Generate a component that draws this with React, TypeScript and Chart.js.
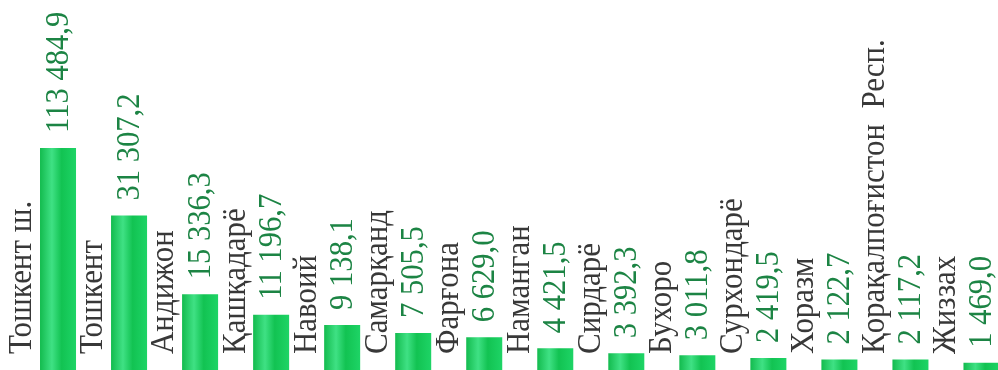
import React, { useEffect, useRef } from "react";
import { Chart, registerables } from "chart.js";

Chart.register(...registerables);

const categories = [
  "Тошкент ш.",
  "Тошкент",
  "Андижон",
  "Қашқадарё",
  "Навоий",
  "Самарқанд",
  "Фарғона",
  "Наманган",
  "Сирдарё",
  "Бухоро",
  "Сурхондарё",
  "Хоразм",
  "Қорақалпоғистон  Респ.",
  "Жиззах",
];

const values = [
  113484.9, 31307.2, 15336.3, 11196.7, 9138.1, 7505.5, 6629.0, 4421.5, 3392.3,
  3011.8, 2419.5, 2122.7, 2117.2, 1469.0,
];

const valueLabels = [
  "113 484,9",
  "31 307,2",
  "15 336,3",
  "11 196,7",
  "9 138,1",
  "7 505,5",
  "6 629,0",
  "4 421,5",
  "3 392,3",
  "3 011,8",
  "2 419,5",
  "2 122,7",
  "2 117,2",
  "1 469,0",
];

const Y_MAX = 45000;
const FONT = '"Liberation Serif", "Times New Roman", serif';

const labelPlugin = {
  id: "rotLabels",
  afterDatasetsDraw(chart: any) {
    const ctx = chart.ctx;
    const meta = chart.getDatasetMeta(0);
    const area = chart.chartArea;
    const slot = (area.right - area.left) / categories.length;
    ctx.save();
    meta.data.forEach((bar: any, i: number) => {
      const top = Math.max(bar.y, area.top);
      // value label
      ctx.save();
      ctx.font = "34px " + FONT;
      ctx.fillStyle = "#1c8444";
      ctx.textAlign = "left";
      ctx.textBaseline = "middle";
      ctx.translate(bar.x + 1, top - 15);
      ctx.rotate(-Math.PI / 2);
      ctx.scale(0.9, 1);
      ctx.fillText(valueLabels[i], 0, 0);
      ctx.restore();
      // category label
      ctx.save();
      ctx.font = "34px " + FONT;
      ctx.fillStyle = "#383838";
      ctx.textAlign = "left";
      ctx.textBaseline = "middle";
      ctx.translate(bar.x - slot / 2, 354);
      ctx.rotate(-Math.PI / 2);
      ctx.scale(0.91, 1);
      ctx.fillText(categories[i], 0, 0);
      ctx.restore();
    });
    ctx.restore();
  },
};

export default function App() {
  const ref = useRef<HTMLCanvasElement | null>(null);

  useEffect(() => {
    document.body.style.margin = "0";
    const canvas = ref.current!;
    const chart = new Chart(canvas, {
      type: "bar",
      data: {
        labels: categories,
        datasets: [
          {
            data: values,
            barPercentage: 0.507,
            categoryPercentage: 1,
            borderWidth: 0,
            backgroundColor: (c: any) => {
              const ch = c.chart;
              const area = ch.chartArea;
              if (!area || c.dataIndex === undefined) return "#1ac456";
              const slot = (area.right - area.left) / categories.length;
              const cx = area.left + (c.dataIndex + 0.5) * slot;
              if (!isFinite(cx)) return "#1ac456";
              const w = 36;
              const g = ch.ctx.createLinearGradient(cx - w / 2, 0, cx + w / 2, 0);
              g.addColorStop(0, "#13bb4e");
              g.addColorStop(0.33, "#3fe184");
              g.addColorStop(0.6, "#12c352");
              g.addColorStop(1, "#1ed466");
              return g;
            },
          },
        ],
      },
      options: {
        animation: false,
        responsive: false,
        maintainAspectRatio: false,
        layout: { padding: { top: 148, bottom: 0, left: 22.5, right: 0 } },
        plugins: { legend: { display: false }, tooltip: { enabled: false } },
        scales: {
          x: { display: false },
          y: { display: false, min: 0, max: Y_MAX },
        },
      },
      plugins: [labelPlugin],
    });
    return () => chart.destroy();
  }, []);

  return (
    <div
      style={{
        position: "fixed",
        left: 0,
        top: 0,
        width: 998,
        height: 370,
        overflow: "hidden",
        background: "#fff",
      }}
    >
      <canvas ref={ref} width={1017} height={370} style={{ width: 1017, height: 370 }} />
    </div>
  );
}
